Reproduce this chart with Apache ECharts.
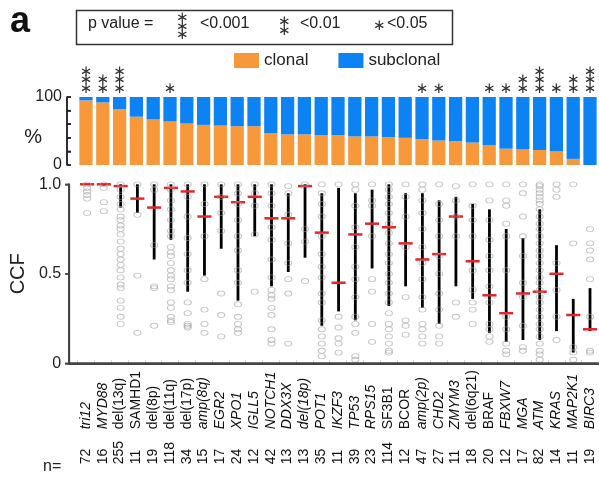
<!DOCTYPE html>
<html>
<head>
<meta charset="utf-8">
<script src="https://cdn.jsdelivr.net/npm/echarts@6/dist/echarts.min.js"></script>
<style>html,body{margin:0;padding:0;background:#fff}#c{width:599px;height:479px}</style>
</head>
<body>
<div id="c"></div>
<script>
// ---------- data ----------
const categories = ['tri12','MYD88','del(13q)','SAMHD1','del(8p)','del(11q)','del(17p)','amp(8q)','EGR2','XPO1','IGLL5','NOTCH1','DDX3X','del(18p)','POT1','IKZF3','TP53','RPS15','SF3B1','BCOR','amp(2p)','CHD2','ZMYM3','del(6q21)','BRAF','FBXW7','MGA','ATM','KRAS','MAP2K1','BIRC3'];
const italicLabel = [1,1,0,0,0,0,0,1,1,1,1,1,1,1,1,1,1,1,0,0,1,1,1,0,0,1,1,1,1,1,1];
const nValues = [72,16,255,11,19,118,34,15,17,24,12,42,13,13,35,11,39,23,114,12,47,27,11,18,20,12,17,82,14,11,19];
const clonalPct = [95,92,82,71,67,64,61,59,58,57,57,47,45,45,44,44,42,42,41,40,38,36,35,33,29,24,23,22,20,9,0];
const starCount = [3,2,3,0,0,1,0,0,0,0,0,0,0,0,0,0,0,0,0,0,1,1,0,0,1,1,2,3,1,2,3];
const ccfMedian = [1.0,1.0,0.99,0.92,0.87,0.98,0.96,0.82,0.93,0.90,0.93,0.81,0.81,0.99,0.73,0.45,0.72,0.78,0.76,0.67,0.58,0.61,0.82,0.57,0.38,0.28,0.39,0.40,0.50,0.27,0.19];
const ccfHigh = [1.0,1.0,1.0,1.0,1.0,1.0,1.0,1.0,1.0,1.0,1.0,1.0,0.95,1.0,0.95,0.98,0.95,0.97,1.0,0.95,0.95,0.91,0.93,0.89,0.86,0.75,0.70,0.86,0.66,0.36,0.42];
const ccfLow = [1.0,0.99,0.87,0.84,0.58,0.69,0.40,0.49,0.64,0.35,0.71,0.43,0.51,0.59,0.21,0.29,0.24,0.53,0.32,0.43,0.31,0.22,0.43,0.36,0.17,0.12,0.13,0.13,0.18,0.06,0.18];
const ccfPoints = [
 [1.0,0.98,0.96,0.94,0.92,0.84],
 [1.0,0.98,0.90,0.85],
 [1.0,0.97,0.93,0.89,0.86,0.82,0.80,0.77,0.75,0.72,0.68,0.64,0.61,0.58,0.55,0.52,0.48,0.44,0.42,0.35,0.31,0.26,0.22],
 [1.0,0.83,0.49,0.17],
 [1.0,0.97,0.66,0.43,0.42,0.21],
 [1.0,0.97,0.91,0.86,0.80,0.74,0.71,0.65,0.62,0.60,0.56,0.52,0.49,0.47,0.43,0.41,0.34,0.31,0.26,0.24,0.23],
 [1.0,0.93,0.82,0.70,0.61,0.52,0.45,0.34,0.28,0.22,0.21,0.20],
 [1.0,0.89,0.71,0.47,0.30,0.22,0.17],
 [1.0,0.93,0.84,0.74,0.39,0.27,0.15],
 [1.0,0.95,0.89,0.80,0.71,0.63,0.52,0.45,0.33,0.26,0.22,0.19,0.17],
 [1.0,0.95,0.88,0.72,0.40],
 [1.0,0.95,0.88,0.76,0.69,0.58,0.48,0.41,0.38,0.36,0.31,0.27,0.19,0.13,0.11],
 [0.99,0.95,0.83,0.67,0.56,0.47,0.39,0.11],
 [1.0,0.75,0.68,0.46],
 [1.0,0.95,0.89,0.82,0.71,0.61,0.54,0.48,0.39,0.34,0.24,0.19,0.15,0.11,0.07,0.04],
 [1.0,0.26,0.20,0.14,0.11,0.06],
 [1.0,0.97,0.88,0.76,0.65,0.54,0.47,0.37,0.26,0.22,0.17,0.04,0.02],
 [1.0,0.91,0.88,0.71,0.47,0.40,0.22,0.12],
 [1.0,0.97,0.93,0.89,0.84,0.78,0.73,0.67,0.61,0.56,0.50,0.45,0.39,0.34,0.28,0.22,0.19,0.15,0.11,0.07,0.06],
 [1.0,0.93,0.82,0.65,0.37,0.24,0.21,0.16],
 [1.0,0.97,0.91,0.84,0.75,0.65,0.56,0.47,0.37,0.30,0.22,0.19,0.15,0.11],
 [1.0,0.89,0.80,0.71,0.60,0.50,0.39,0.30,0.21,0.15,0.11],
 [0.99,0.91,0.82,0.71,0.34,0.26],
 [1.0,0.88,0.80,0.71,0.52,0.41,0.34,0.30,0.22],
 [1.0,0.91,0.80,0.69,0.60,0.52,0.43,0.34,0.22,0.19,0.15,0.12],
 [1.0,0.91,0.88,0.78,0.71,0.52,0.26,0.19,0.11,0.07,0.05],
 [1.0,0.95,0.82,0.71,0.60,0.45,0.37,0.21,0.09,0.07],
 [1.0,0.99,0.97,0.95,0.93,0.91,0.89,0.86,0.82,0.78,0.75,0.71,0.67,0.63,0.60,0.56,0.52,0.48,0.45,0.41,0.37,0.34,0.30,0.26,0.22,0.19,0.15,0.11,0.07,0.05,0.02],
 [1.0,0.97,0.93,0.56,0.41,0.26,0.13],
 [1.0,0.67,0.09,0.06,0.02],
 [0.75,0.67,0.63,0.58,0.47,0.26,0.07,0.06]
];
const ccfTicks = ['0','0.5','1.0'];
const ccfTickVals = [0, 0.5, 1];
const pctTicks = ['0','100'];
const pctTickVals = [0, 20, 40, 60, 80, 100];

// ---------- layout / style ----------
const FONT = "'Liberation Sans', Arial, sans-serif";
const ORANGE = '#F7983B', BLUE = '#0D82F3';
const AXIS_DARK = '#222', AXIS_GREY = '#444';
const plotLeft = 77.6, plotRight = 0.6, W = 599;
const pitch = (W - plotLeft - plotRight) / categories.length;
const axisShift = 9.6, topAxisShift = 10.6;
const xMinB = -0.5 - axisShift / pitch, xMaxB = categories.length - 0.5;
const subclonalPct = clonalPct.map(v => 100 - v);

const scatterData = [];
ccfPoints.forEach((arr, i) => arr.forEach(v => scatterData.push([i, v])));
const rangeData = categories.map((c, i) => [i, ccfLow[i], ccfHigh[i]]);
const medianData = categories.map((c, i) => [i, ccfMedian[i]]);

const chart = echarts.init(document.getElementById('c'));
const starStr = k => Array(k).fill('\u2217').join('\n');
const seg = (x1, y1, x2, y2, color, w) => ({type: 'line', shape: {x1, y1, x2, y2}, style: {stroke: color, lineWidth: w}});

chart.setOption({
  animation: false,
  textStyle: {fontFamily: FONT},
  legend: {
    data: ['clonal', 'subclonal'], left: 229, top: 47, icon: 'rect',
    itemWidth: 25, itemHeight: 15, itemGap: 30,
    textStyle: {fontSize: 17, color: '#222', fontFamily: FONT}
  },
  grid: [
    {left: plotLeft, right: plotRight, top: 97, height: 68},
    {left: plotLeft - axisShift, right: plotRight, top: 184.3, height: 179},
    {left: plotLeft, right: plotRight, top: 184.3, height: 179}
  ],
  xAxis: [
    {type: 'category', gridIndex: 0, data: categories, show: false},
    {type: 'value', gridIndex: 1, position: 'bottom', min: xMinB, max: xMaxB,
     axisLine: {show: true, onZero: false, lineStyle: {color: AXIS_GREY, width: 2}},
     axisTick: {show: false}, axisLabel: {show: false}, splitLine: {show: false}},
    {type: 'category', gridIndex: 2, data: categories, position: 'bottom',
     axisLine: {show: false}, axisTick: {show: true, inside: true, length: 3, lineStyle: {color: '#ccc'}},
     axisLabel: {rotate: 90, align: 'left', margin: 66, fontSize: 14, color: '#111', interval: 0,
       formatter: (v) => { const i = categories.indexOf(v); return italicLabel[i] ? '{i|' + v + '}' : '{n|' + v + '}'; },
       rich: {i: {fontStyle: 'italic', fontSize: 14, fontFamily: FONT, color: '#111'}, n: {fontSize: 14, fontFamily: FONT, color: '#111'}}}},
    {type: 'category', gridIndex: 2, data: nValues.map((v, i) => i + ':' + v), position: 'bottom',
     axisLine: {show: false}, axisTick: {show: false},
     axisLabel: {rotate: 90, align: 'left', margin: 101, fontSize: 14, color: '#111', interval: 0,
       formatter: v => v.split(':')[1]}}
  ],
  yAxis: [
    {type: 'value', gridIndex: 0, min: 0, max: 100, interval: 20, offset: topAxisShift,
     name: '%', nameLocation: 'middle', nameRotate: 0, nameGap: 25, nameMoveOverlap: false,
     nameTextStyle: {fontSize: 20, color: '#222', verticalAlign: 'top', lineHeight: 12},
     axisLine: {show: true, onZero: false, lineStyle: {color: AXIS_DARK, width: 1.5}},
     axisTick: {show: true, inside: true, length: 4, lineStyle: {color: AXIS_DARK, width: 1.5}},
     axisLabel: {fontSize: 16, color: '#222', margin: 5,
       formatter: v => pctTicks.includes(String(v)) ? String(v) : ''},
     splitLine: {show: false}},
    {type: 'value', gridIndex: 1, min: 0, max: 1, interval: 0.5, position: 'left',
     name: 'CCF', nameLocation: 'middle', nameRotate: 90, nameGap: 38,
     nameTextStyle: {fontSize: 20, color: '#222'},
     axisLine: {show: true, onZero: false, lineStyle: {color: AXIS_GREY, width: 2}},
     axisTick: {show: true, length: 4, lineStyle: {color: AXIS_GREY, width: 1.5}},
     axisLabel: {fontSize: 16, color: '#222', margin: 8,
       formatter: v => ccfTicks[Math.round(v * 2)]},
     splitLine: {show: false}},
    {type: 'value', gridIndex: 2, min: 0, max: 1, show: false}
  ],
  series: [
    {type: 'bar', name: 'clonal', xAxisIndex: 0, yAxisIndex: 0, stack: 'pct', data: clonalPct,
     barCategoryGap: '21%', itemStyle: {color: ORANGE}},
    {type: 'bar', name: 'subclonal', xAxisIndex: 0, yAxisIndex: 0, stack: 'pct', data: subclonalPct,
     itemStyle: {color: BLUE},
     label: {show: true, position: 'top', distance: 4, fontSize: 15, lineHeight: 8.5, color: '#333',
       fontFamily: "'DejaVu Sans', sans-serif",
       formatter: p => starCount[p.dataIndex] > 0 ? starStr(starCount[p.dataIndex]) : ''}},
    {type: 'scatter', xAxisIndex: 1, yAxisIndex: 1, data: scatterData, symbol: 'circle', symbolSize: [7, 5],
     itemStyle: {color: 'rgba(0,0,0,0)', borderColor: '#a0a0a0', borderWidth: 1, opacity: 0.6}},
    {type: 'custom', xAxisIndex: 1, yAxisIndex: 1, data: rangeData,
     renderItem: (params, api) => {
       const a = api.coord([api.value(0), api.value(1)]);
       const b = api.coord([api.value(0), api.value(2)]);
       return seg(a[0], a[1], b[0], b[1], '#000', 2.8);
     }},
    {type: 'custom', xAxisIndex: 1, yAxisIndex: 1, data: medianData,
     renderItem: (params, api) => {
       const p = api.coord([api.value(0), api.value(1)]);
       const hw = api.size([1, 0])[0] * 0.42;
       return seg(p[0] - hw, p[1], p[0] + hw, p[1], '#E3262C', 2.5);
     }},
    // axis frames drawn through the panels' own scales (bottom panel)
    {type: 'custom', xAxisIndex: 1, yAxisIndex: 1, data: [[0, 0.5]], clip: false, silent: true, z: 20,
     renderItem: (params, api) => {
       const p0 = api.coord([xMinB, 0]), p1 = api.coord([xMaxB, 0]), pt = api.coord([xMinB, 1]);
       const ch = [seg(p0[0], p0[1], p1[0], p1[1], AXIS_GREY, 2), seg(p0[0], p0[1], pt[0], pt[1], AXIS_GREY, 2)];
       ccfTickVals.forEach(v => { const q = api.coord([xMinB, v]); ch.push(seg(q[0] - 4, q[1], q[0], q[1], AXIS_GREY, 1.5)); });
       return {type: 'group', children: ch};
     }},
    // top panel bracket
    {type: 'custom', xAxisIndex: 0, yAxisIndex: 0, data: [[0, 50]], clip: false, silent: true, z: 20,
     renderItem: (params, api) => {
       const c0 = api.coord([0, 0]);
       const x = c0[0] - api.size([1, 0])[0] / 2 - topAxisShift;
       const ch = [seg(x, api.coord([0, 0])[1], x, api.coord([0, 100])[1], AXIS_DARK, 1.5)];
       pctTickVals.forEach(v => { const y = api.coord([0, v])[1]; ch.push(seg(x, y, x + 4, y, AXIS_DARK, 1.5)); });
       return {type: 'group', children: ch};
     }}
  ],
  graphic: [
    {type: 'text', left: 10, top: 4, style: {text: 'a', font: 'bold 36px ' + FONT, fill: '#111'}},
    {type: 'rect', left: 74, top: 8, shape: {width: 376, height: 34},
     style: {fill: 'none', stroke: '#333', lineWidth: 1.5}},
    {type: 'text', left: 88, top: 16, style: {text: 'p value =', font: '16px ' + FONT, fill: '#222'}},
    {type: 'text', left: 176, top: 11, style: {text: starStr(3), font: '15px DejaVu Sans', lineHeight: 8.5, fill: '#333'}},
    {type: 'text', left: 200, top: 16, style: {text: '<0.001', font: '16px ' + FONT, fill: '#222'}},
    {type: 'text', left: 278, top: 15, style: {text: starStr(2), font: '15px DejaVu Sans', lineHeight: 8.5, fill: '#333'}},
    {type: 'text', left: 300, top: 16, style: {text: '<0.01', font: '16px ' + FONT, fill: '#222'}},
    {type: 'text', left: 373, top: 19, style: {text: starStr(1), font: '15px DejaVu Sans', lineHeight: 8.5, fill: '#333'}},
    {type: 'text', left: 387, top: 16, style: {text: '<0.05', font: '16px ' + FONT, fill: '#222'}},
    {type: 'text', left: 43, top: 459, style: {text: 'n=', font: '16px ' + FONT, fill: '#222'}}
  ]
});
</script>
</body>
</html>
